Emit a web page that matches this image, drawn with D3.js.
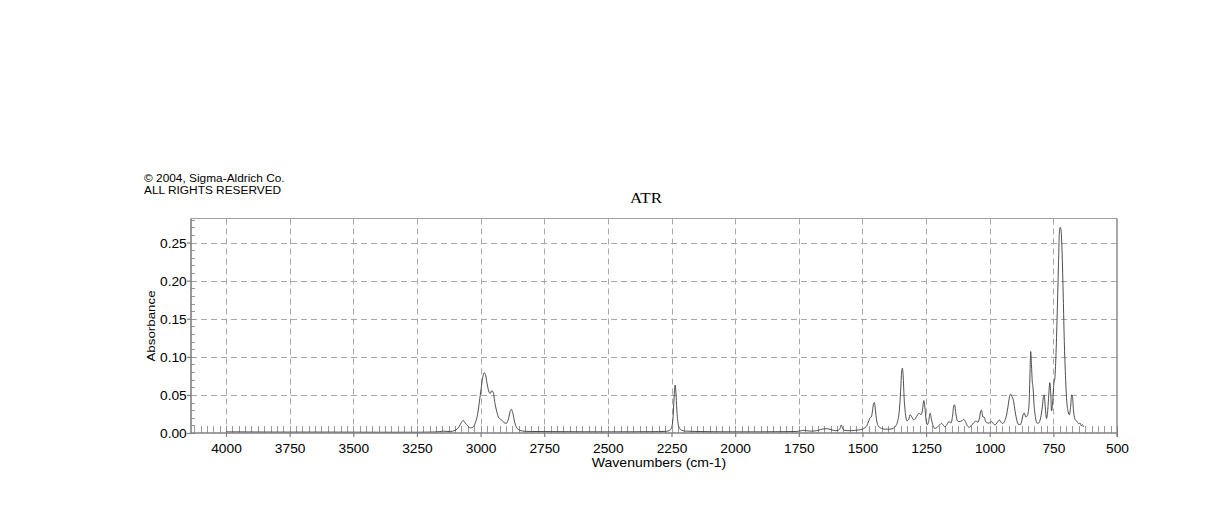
<!DOCTYPE html>
<html>
<head>
<meta charset="utf-8">
<script src="https://cdn.jsdelivr.net/npm/d3@7"></script>
<style>
  html, body { margin: 0; padding: 0; background: #fff; }
  svg { display: block; }
  .sans { font-family: "Liberation Sans", Arial, Helvetica, sans-serif; fill: #000; }
  .serif { font-family: "Liberation Serif", "Times New Roman", serif; fill: #000; }
</style>
</head>
<body>
<svg id="chart" width="1218" height="528"></svg>
<script>
// ── spectrum (cm-1, absorbance) ────────────────────────────────
const wavenumbers = [
  4000, 3800, 3600, 3400, 3250, 3200, 3160, 3150, 3140, 3120, 3100, 3085, 3075, 3068, 3062,
  3050, 3040, 3030, 3020, 3012, 3005, 2998, 2992, 2986, 2981, 2975, 2968, 2962, 2956, 2950,
  2944, 2937, 2930, 2922, 2915, 2905, 2898, 2890, 2884, 2879, 2874, 2866, 2858, 2848, 2835,
  2800, 2700, 2600, 2500, 2400, 2300, 2270, 2255, 2248, 2243, 2239, 2236, 2233, 2229, 2224,
  2218, 2210, 2195, 2150, 2000, 1900, 1800, 1760, 1740, 1730, 1720, 1700, 1680, 1665, 1650,
  1635, 1620, 1605, 1595, 1588, 1583, 1578, 1570, 1550, 1530, 1515, 1500, 1490, 1482, 1475,
  1470, 1465, 1460, 1456, 1453, 1449, 1444, 1437, 1425, 1410, 1395, 1380, 1370, 1362, 1355,
  1350, 1346, 1343, 1340, 1336, 1331, 1325, 1318, 1313, 1306, 1298, 1292, 1283, 1277, 1270,
  1264, 1259, 1255, 1250, 1245, 1240, 1234, 1229, 1222, 1215, 1205, 1195, 1189, 1182, 1176,
  1168, 1160, 1152, 1146, 1141, 1138, 1133, 1127, 1120, 1110, 1102, 1094, 1087, 1080, 1070,
  1060, 1054, 1047, 1040, 1035, 1032, 1027, 1022, 1017, 1012, 1004, 998, 992, 985, 979,
  970, 962, 955, 949, 942, 935, 928, 922, 918, 913, 907, 900, 893, 888, 880,
  874, 868, 864, 858, 852, 846, 842, 839, 836, 833, 830, 826, 820, 814, 808,
  800, 793, 789, 786, 782, 777, 772, 768, 764, 760, 757, 753, 748, 744, 740,
  735, 730, 726, 723, 720, 716, 711, 707, 703, 698, 692, 687, 682, 678, 675,
  671, 666, 660, 655, 650, 645, 640, 636, 632
];
const absorbance = [
  0.0015, 0.0012, 0.0012, 0.0010, 0.0010, 0.0012, 0.0018, 0.0025, 0.0022, 0.0020, 0.0035, 0.0080, 0.0140, 0.0165, 0.0140,
  0.0090, 0.0068, 0.0075, 0.0140, 0.0240, 0.0400, 0.0580, 0.0720, 0.0790, 0.0770, 0.0660, 0.0550, 0.0520, 0.0555, 0.0530,
  0.0400, 0.0290, 0.0210, 0.0180, 0.0165, 0.0130, 0.0130, 0.0190, 0.0280, 0.0310, 0.0270, 0.0140, 0.0070, 0.0040, 0.0025,
  0.0020, 0.0018, 0.0016, 0.0015, 0.0016, 0.0018, 0.0022, 0.0040, 0.0090, 0.0250, 0.0520, 0.0630, 0.0550, 0.0300, 0.0120,
  0.0060, 0.0035, 0.0025, 0.0020, 0.0015, 0.0015, 0.0018, 0.0020, 0.0030, 0.0035, 0.0030, 0.0025, 0.0030, 0.0045, 0.0055,
  0.0055, 0.0040, 0.0030, 0.0035, 0.0060, 0.0105, 0.0060, 0.0035, 0.0030, 0.0035, 0.0040, 0.0050, 0.0070, 0.0100, 0.0160,
  0.0200, 0.0210, 0.0300, 0.0390, 0.0400, 0.0300, 0.0160, 0.0090, 0.0060, 0.0050, 0.0050, 0.0060, 0.0090, 0.0150, 0.0300,
  0.0550, 0.0800, 0.0850, 0.0750, 0.0450, 0.0250, 0.0160, 0.0180, 0.0240, 0.0210, 0.0170, 0.0190, 0.0240, 0.0260, 0.0240,
  0.0300, 0.0425, 0.0350, 0.0170, 0.0110, 0.0150, 0.0260, 0.0180, 0.0090, 0.0060, 0.0080, 0.0110, 0.0127, 0.0100, 0.0080,
  0.0110, 0.0150, 0.0130, 0.0220, 0.0360, 0.0370, 0.0250, 0.0160, 0.0150, 0.0160, 0.0180, 0.0140, 0.0090, 0.0075, 0.0110,
  0.0140, 0.0160, 0.0140, 0.0200, 0.0290, 0.0300, 0.0210, 0.0210, 0.0160, 0.0135, 0.0130, 0.0140, 0.0150, 0.0120, 0.0105,
  0.0140, 0.0170, 0.0140, 0.0125, 0.0150, 0.0220, 0.0350, 0.0480, 0.0510, 0.0480, 0.0430, 0.0280, 0.0160, 0.0115, 0.0110,
  0.0160, 0.0250, 0.0260, 0.0210, 0.0230, 0.0350, 0.0750, 0.1070, 0.0900, 0.0680, 0.0600, 0.0380, 0.0200, 0.0130, 0.0130,
  0.0200, 0.0350, 0.0480, 0.0500, 0.0350, 0.0190, 0.0300, 0.0500, 0.0660, 0.0500, 0.0290, 0.0400, 0.0650, 0.0720, 0.1000,
  0.1550, 0.2200, 0.2650, 0.2700, 0.2670, 0.2400, 0.1770, 0.1200, 0.0810, 0.0450, 0.0280, 0.0240, 0.0350, 0.0500, 0.0480,
  0.0300, 0.0190, 0.0160, 0.0140, 0.0120, 0.0130, 0.0095, 0.0110, 0.0080
];

const xTickValues = [4000, 3750, 3500, 3250, 3000, 2750, 2500, 2250, 2000, 1750, 1500, 1250, 1000, 750, 500];
const yTickValues = [0.00, 0.05, 0.10, 0.15, 0.20, 0.25];
const xTickLabels = xTickValues.map(String);
const yTickLabels = ['0.00', '0.05', '0.10', '0.15', '0.20', '0.25'];

const titleText = 'ATR';
const xTitle = 'Wavenumbers (cm-1)';
const yTitle = 'Absorbance';
const copyright = ['© 2004, Sigma-Aldrich Co.', 'ALL RIGHTS RESERVED'];

// ── frame ─────────────────────────────────────────────
const plotL = 191, plotR = 1117, plotT = 218.5, plotB = 433;

const svg = d3.select('#chart');
const x = d3.scaleLinear().domain([4137.5, 500]).range([plotL, plotR]);
const y = d3.scaleLinear().domain([0, 0.2816]).range([plotB, plotT]);

// grid
const grid = svg.append('g').attr('stroke', '#a8a8a8').attr('stroke-width', 1)
  .attr('stroke-dasharray', '6,4').attr('fill', 'none');
grid.selectAll('.vgrid').data(xTickValues.filter(v => v > 500)).enter().append('line')
  .attr('class', 'vgrid')
  .attr('x1', d => Math.round(x(d)) + 0.5).attr('x2', d => Math.round(x(d)) + 0.5)
  .attr('y1', plotT).attr('y2', plotB);
grid.selectAll('.hgrid').data(yTickValues.filter(v => v > 0)).enter().append('line')
  .attr('class', 'hgrid')
  .attr('x1', plotL).attr('x2', plotR)
  .attr('y1', d => Math.round(y(d)) + 0.5).attr('y2', d => Math.round(y(d)) + 0.5);

// minor ticks, inside
const xMinor = d3.range(500, 4137.5, 25);
const yMinor = d3.range(0, 0.2816, 0.01);
svg.append('g').attr('transform', `translate(0,${plotB})`)
  .call(d3.axisTop(x).tickValues(xMinor).tickSize(7).tickFormat(''))
  .call(g => g.select('.domain').remove())
  .call(g => g.selectAll('line').attr('stroke', '#999').attr('shape-rendering', 'crispEdges'));
svg.append('g').attr('transform', `translate(${plotL},0)`)
  .call(d3.axisRight(y).tickValues(yMinor).tickSize(4).tickFormat(''))
  .call(g => g.select('.domain').remove())
  .call(g => g.selectAll('line').attr('stroke', '#999').attr('shape-rendering', 'crispEdges'));

// top / right border
svg.append('line').attr('x1', plotL).attr('x2', plotR).attr('y1', plotT).attr('y2', plotT)
  .attr('stroke', '#a0a0a0').attr('stroke-width', 1);
svg.append('line').attr('x1', plotR).attr('x2', plotR).attr('y1', plotT).attr('y2', plotB + 4)
  .attr('stroke', '#707070').attr('stroke-width', 1.2);

// spectrum
const pts = wavenumbers.map((w, i) => [w, absorbance[i]]);
svg.append('path').datum(pts)
  .attr('fill', 'none').attr('stroke', '#3a3a3a').attr('stroke-width', 0.9)
  .attr('stroke-linejoin', 'round')
  .attr('d', d3.line().x(d => x(d[0])).y(d => y(d[1])).curve(d3.curveMonotoneX));

// major axes
const xAxis = svg.append('g').attr('transform', `translate(0,${plotB})`)
  .call(d3.axisBottom(x).tickValues(xTickValues).tickSize(4).tickPadding(8)
    .tickFormat((d, i) => xTickLabels[i]));
const yAxis = svg.append('g').attr('transform', `translate(${plotL},0)`)
  .call(d3.axisLeft(y).tickValues(yTickValues).tickSize(4).tickPadding(1)
    .tickFormat((d, i) => yTickLabels[i]));
[xAxis, yAxis].forEach(ax => {
  ax.select('.domain').attr('stroke', '#808080').attr('stroke-width', 1.6);
  ax.selectAll('.tick line').attr('stroke', '#808080').attr('stroke-width', 1.2);
  ax.selectAll('.tick text').attr('class', 'sans').attr('font-size', 13)
    .attr('font-family', null).attr('fill', '#000');
});
xAxis.attr('font-family', null).attr('font-size', null);
yAxis.attr('font-family', null).attr('font-size', null);
xAxis.select('.domain').attr('d', `M${plotL},0H${plotR}`);
yAxis.select('.domain').attr('d', `M0,${plotT}V${plotB}`);
xAxis.selectAll('.tick text').attr('dy', null).attr('y', 20)
  .attr('transform', 'scale(1.06,1)');
yAxis.selectAll('.tick text').attr('dy', '0.36em').attr('x', -4)
  .attr('transform', 'scale(1.06,1)');

// texts
function stretched(sel, tx, ty, sx, rot) {
  return sel.attr('transform', `translate(${tx},${ty})` + (rot ? ` rotate(${rot})` : '') + ` scale(${sx},1)`);
}
copyright.forEach((t, i) => {
  stretched(svg.append('text').attr('class', 'sans').attr('font-size', 10.6).text(t), 144, 182 + i * 12, 1.12);
});
stretched(svg.append('text').attr('class', 'serif').attr('font-size', 15)
  .attr('text-anchor', 'middle').text(titleText), 646, 203, 1.13);
stretched(svg.append('text').attr('class', 'sans').attr('font-size', 12)
  .attr('text-anchor', 'middle').text(xTitle), 659, 467, 1.17);
stretched(svg.append('text').attr('class', 'sans').attr('font-size', 11.8)
  .attr('text-anchor', 'middle').text(yTitle), 155, 326, 1.13, -90);
</script>
</body>
</html>
